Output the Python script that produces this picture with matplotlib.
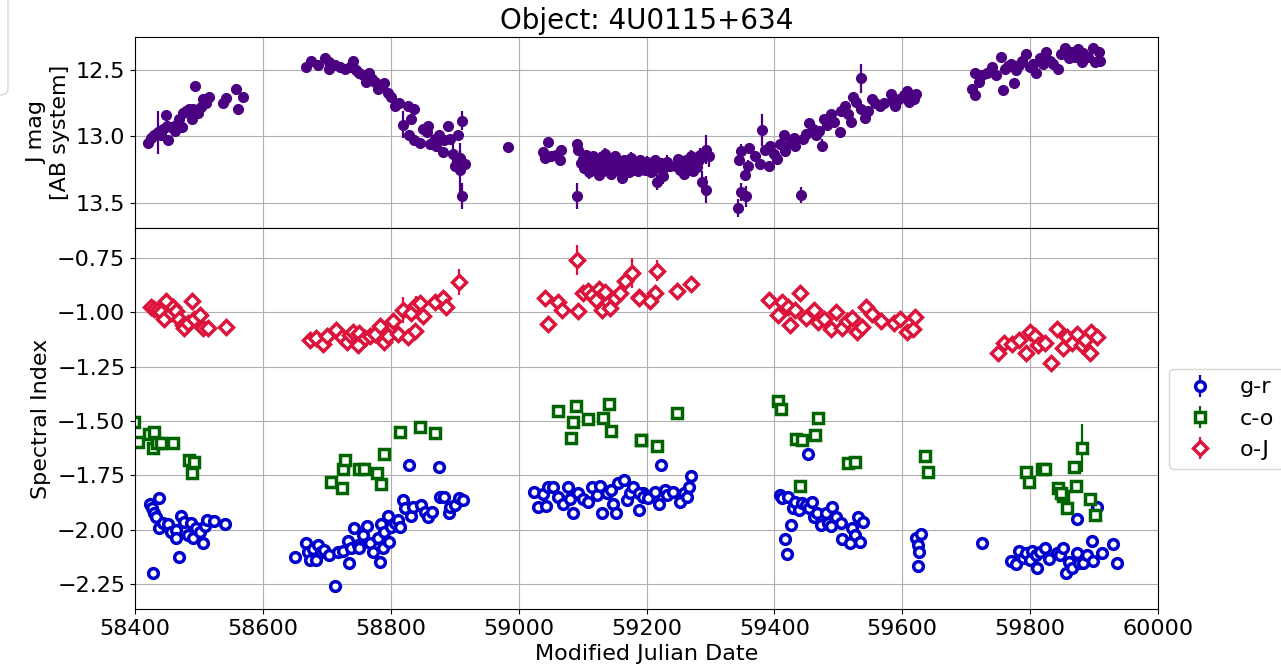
import numpy as np
import matplotlib
matplotlib.use("Agg")
import matplotlib.pyplot as plt
from matplotlib.patches import FancyBboxPatch

obj_name = "4U0115+634"

# J band light curve (MJD, AB mag, error)
j_mjd = [58420, 58425, 58430, 58436, 58441, 58443, 58449, 58450, 58451, 58456,
         58462, 58464, 58469, 58474, 58475, 58480, 58485, 58489, 58490, 58494,
         58498, 58503, 58507, 58511, 58515, 58537, 58543, 58558, 58561, 58569,
         58668, 58676, 58686, 58697, 58704, 58704, 58712, 58720, 58728, 58736,
         58741, 58746, 58751, 58757, 58762, 58766, 58770, 58775, 58780, 58785,
         58790, 58796, 58801, 58806, 58813, 58819, 58827, 58832, 58837, 58829,
         58837, 58845, 58850, 58856, 58858, 58861, 58869, 58871, 58876, 58882,
         58884, 58890, 58892, 58898, 58900, 58905, 58908, 58911, 58912, 58916,
         58908, 58984,
         59038, 59041, 59046, 59051, 59059, 59064, 59067, 59091, 59093, 59092,
         59097, 59100, 59102, 59105, 59107, 59110, 59112, 59115, 59117, 59120,
         59122, 59125, 59127, 59130, 59132, 59135, 59137, 59140, 59142, 59145,
         59147, 59150, 59152, 59155, 59157, 59160, 59162, 59165, 59167, 59170,
         59172, 59175, 59177, 59180, 59182, 59185, 59187, 59190, 59192, 59195,
         59198, 59201, 59204, 59207, 59210, 59213, 59216, 59219, 59222, 59226,
         59229, 59232, 59236, 59246, 59249, 59252, 59255, 59258, 59261, 59264,
         59267, 59270, 59273, 59276, 59279, 59282, 59284, 59287, 59293, 59293,
         59298,
         59343, 59347, 59356, 59354, 59344, 59348, 59359, 59361, 59370, 59377,
         59380, 59385, 59391, 59393, 59399, 59404, 59409, 59415, 59417, 59425,
         59430, 59433, 59441, 59444, 59449, 59454, 59460, 59465, 59470, 59475,
         59478, 59483, 59488, 59494, 59502, 59504, 59510, 59515, 59520, 59523,
         59528, 59535, 59536, 59541, 59546, 59552, 59557, 59565, 59571, 59582,
         59584, 59589, 59595, 59603, 59608, 59611, 59613, 59619, 59621,
         59709, 59714, 59714, 59720, 59725, 59733, 59741, 59746, 59754, 59757,
         59760, 59765, 59770, 59775, 59778, 59783, 59788, 59793, 59799, 59804,
         59809, 59815, 59820, 59825, 59831, 59836, 59844, 59849, 59854, 59860,
         59865, 59870, 59875, 59881, 59883, 59891, 59898, 59902, 59907, 59910]
j_mag = [13.05, 13.01, 12.99, 12.97, 12.99, 12.94, 12.84, 12.92, 13.03, 12.93,
         12.96, 12.91, 12.87, 12.93, 12.82, 12.81, 12.79, 12.87, 12.79, 12.62,
         12.82, 12.78, 12.72, 12.75, 12.70, 12.75, 12.71, 12.64, 12.79, 12.70,
         12.48, 12.43, 12.46, 12.41, 12.44, 12.49, 12.46, 12.48, 12.49, 12.48,
         12.43, 12.50, 12.52, 12.54, 12.59, 12.52, 12.57, 12.59, 12.64, 12.63,
         12.60, 12.67, 12.70, 12.77, 12.75, 12.91, 12.77, 12.87, 12.79, 12.99,
         13.03, 13.05, 12.94, 12.97, 12.92, 13.06, 13.02, 13.07, 12.99, 13.12,
         13.03, 12.92, 13.02, 13.13, 13.22, 12.99, 13.25, 12.88, 13.45, 13.21,
         13.16, 13.08,
         13.12, 13.16, 13.04, 13.15, 13.14, 13.18, 13.10, 13.06, 13.10, 13.45,
         13.20, 13.17, 13.24, 13.14, 13.21, 13.27, 13.18, 13.23, 13.15, 13.25,
         13.19, 13.29, 13.16, 13.22, 13.26, 13.13, 13.20, 13.24, 13.17, 13.28,
         13.21, 13.15, 13.23, 13.19, 13.26, 13.22, 13.31, 13.18, 13.24, 13.20,
         13.27, 13.16, 13.22, 13.25, 13.19, 13.21, 13.26, 13.18, 13.23, 13.20,
         13.25, 13.19, 13.22, 13.27, 13.21, 13.18, 13.34, 13.24, 13.20, 13.30,
         13.23, 13.19, 13.22, 13.22, 13.17, 13.25, 13.20, 13.28, 13.18, 13.24,
         13.21, 13.15, 13.26, 13.19, 13.23, 13.18, 13.14, 13.34, 13.40, 13.10,
         13.15,
         13.54, 13.42, 13.45, 13.29, 13.18, 13.11, 13.22, 13.09, 13.15, 13.21,
         12.95, 13.10, 13.22, 13.07, 13.13, 13.17, 13.06, 12.99, 13.11, 13.05,
         13.01, 13.07, 13.44, 13.02, 12.98, 12.90, 12.94, 12.99, 12.96, 13.07,
         12.87, 12.91, 12.83, 12.89, 12.97, 12.81, 12.77, 12.83, 12.89, 12.70,
         12.74, 12.56, 12.79, 12.86, 12.81, 12.72, 12.75, 12.77, 12.75, 12.68,
         12.73, 12.77, 12.72, 12.69, 12.66, 12.74, 12.69, 12.72, 12.68,
         12.64, 12.69, 12.52, 12.59, 12.54, 12.52, 12.48, 12.54, 12.40, 12.65,
         12.49, 12.47, 12.45, 12.60, 12.50, 12.46, 12.43, 12.38, 12.48, 12.45,
         12.52, 12.41, 12.45, 12.36, 12.43, 12.45, 12.49, 12.38, 12.33, 12.41,
         12.36, 12.40, 12.34, 12.44, 12.37, 12.40, 12.33, 12.44, 12.36, 12.43]
j_err = [0.03, 0.03, 0.04, 0.16, 0.03, 0.02, 0.03, 0.02, 0.03, 0.02,
         0.02, 0.02, 0.02, 0.02, 0.02, 0.02, 0.02, 0.02, 0.02, 0.02,
         0.02, 0.02, 0.02, 0.02, 0.02, 0.02, 0.02, 0.02, 0.02, 0.02,
         0.02, 0.02, 0.02, 0.02, 0.02, 0.02, 0.02, 0.02, 0.02, 0.02,
         0.02, 0.02, 0.02, 0.02, 0.02, 0.02, 0.02, 0.02, 0.02, 0.02,
         0.02, 0.02, 0.02, 0.02, 0.02, 0.10, 0.03, 0.03, 0.03, 0.03,
         0.04, 0.04, 0.03, 0.03, 0.03, 0.04, 0.03, 0.04, 0.03, 0.04,
         0.03, 0.04, 0.03, 0.08, 0.05, 0.03, 0.20, 0.07, 0.10, 0.04,
         0.06, 0.02,
         0.04, 0.03, 0.02, 0.04, 0.03, 0.04, 0.03, 0.03, 0.03, 0.10,
         0.04, 0.04, 0.04, 0.04, 0.04, 0.05, 0.04, 0.04, 0.04, 0.05,
         0.04, 0.04, 0.04, 0.04, 0.05, 0.04, 0.04, 0.05, 0.04, 0.04,
         0.04, 0.04, 0.05, 0.04, 0.04, 0.04, 0.05, 0.04, 0.04, 0.04,
         0.04, 0.04, 0.05, 0.04, 0.04, 0.04, 0.04, 0.04, 0.04, 0.04,
         0.04, 0.04, 0.04, 0.04, 0.04, 0.04, 0.06, 0.04, 0.04, 0.06,
         0.04, 0.05, 0.04, 0.04, 0.04, 0.04, 0.05, 0.04, 0.04, 0.04,
         0.04, 0.05, 0.04, 0.04, 0.04, 0.04, 0.05, 0.08, 0.10, 0.11,
         0.08,
         0.07, 0.07, 0.08, 0.04, 0.04, 0.05, 0.04, 0.04, 0.03, 0.03,
         0.12, 0.03, 0.03, 0.03, 0.03, 0.03, 0.03, 0.03, 0.03, 0.03,
         0.03, 0.03, 0.06, 0.03, 0.03, 0.03, 0.03, 0.03, 0.03, 0.05,
         0.03, 0.04, 0.03, 0.03, 0.03, 0.03, 0.03, 0.03, 0.03, 0.03,
         0.03, 0.11, 0.03, 0.03, 0.03, 0.03, 0.03, 0.03, 0.03, 0.03,
         0.03, 0.03, 0.03, 0.02, 0.02, 0.02, 0.02, 0.02, 0.02,
         0.02, 0.02, 0.02, 0.02, 0.02, 0.02, 0.02, 0.02, 0.02, 0.02,
         0.02, 0.02, 0.02, 0.02, 0.02, 0.02, 0.02, 0.02, 0.02, 0.02,
         0.02, 0.02, 0.02, 0.02, 0.02, 0.02, 0.02, 0.02, 0.02, 0.02,
         0.02, 0.02, 0.02, 0.02, 0.02, 0.02, 0.02, 0.02, 0.02, 0.02]

# spectral index g-r
gr_mjd = [58423, 58428, 58427, 58430, 58433, 58438, 58437, 58443, 58451, 58456,
          58464, 58464, 58469, 58472, 58477, 58483, 58488, 58491, 58496, 58501,
          58507, 58510, 58512, 58524, 58541,
          58650, 58668, 58670, 58673, 58678, 58683, 58686, 58691, 58696, 58704,
          58713, 58717, 58725, 58733, 58735, 58738, 58742, 58749, 58751, 58757,
          58763, 58767, 58772, 58780, 58783, 58785, 58788, 58790, 58796, 58798,
          58801, 58806, 58811, 58814, 58819, 58822, 58828, 58832, 58835, 58848,
          58853, 58859, 58864, 58875, 58877, 58883, 58891, 58893, 58900, 58907,
          58913,
          59024, 59031, 59038, 59043, 59046, 59054, 59062, 59069, 59077, 59080,
          59085, 59093, 59101, 59109, 59114, 59122, 59127, 59131, 59138, 59145,
          59148, 59153, 59156, 59164, 59169, 59174, 59179, 59188, 59194, 59189,
          59195, 59203, 59213, 59220, 59222, 59229, 59232, 59242, 59252, 59258,
          59264, 59266, 59270,
          59409, 59412, 59417, 59419, 59422, 59426, 59429, 59433, 59438, 59443,
          59453, 59449, 59454, 59459, 59462, 59467, 59473, 59480, 59484, 59488,
          59490, 59496, 59504, 59505, 59518, 59521, 59526, 59531, 59534, 59539,
          59621, 59624, 59625, 59626, 59630, 59724,
          59770, 59778, 59783, 59789, 59794, 59799, 59803, 59809, 59811, 59815,
          59823, 59830, 59842, 59847, 59852, 59856, 59860, 59865, 59873, 59874,
          59877, 59883, 59889, 59896, 59898, 59905, 59912, 59929, 59936]
gr_val = [-1.882, -2.198, -1.902, -1.925, -1.943, -1.856, -1.994, -1.971, -1.974, -2.009,
          -2.002, -2.040, -2.127, -1.937, -1.963, -2.025, -1.971, -2.040, -1.994, -2.009,
          -2.063, -1.982, -1.956, -1.959, -1.974,
          -2.124, -2.063, -2.101, -2.140, -2.090, -2.140, -2.071, -2.101, -2.094, -2.117,
          -2.258, -2.101, -2.097, -2.051, -2.155, -2.085, -1.991, -2.071, -2.085, -2.025,
          -1.982, -2.063, -2.101, -2.040, -2.147, -1.974, -2.085, -2.009, -1.937, -2.055,
          -1.986, -1.971, -1.956, -1.986, -1.863, -1.902, -1.702, -1.937, -1.894, -1.886,
          -1.917, -1.940, -1.917, -1.713, -1.848, -1.848, -1.925, -1.894, -1.886, -1.853,
          -1.863,
          -1.825, -1.897, -1.837, -1.891, -1.802, -1.805, -1.848, -1.882, -1.805, -1.860,
          -1.922, -1.833, -1.860, -1.871, -1.805, -1.840, -1.799, -1.925, -1.833, -1.817,
          -1.882, -1.922, -1.787, -1.771, -1.863, -1.833, -1.802, -1.910, -1.833, -1.833,
          -1.848, -1.856, -1.825, -1.882, -1.702, -1.817, -1.840, -1.825, -1.871, -1.833,
          -1.848, -1.802, -1.752,
          -1.840, -1.856, -2.044, -2.112, -1.848, -1.978, -1.902, -1.871, -1.910, -1.879,
          -1.652, -1.887, -1.902, -1.871, -1.943, -1.925, -1.978, -1.925, -1.968, -1.983,
          -1.897, -1.940, -1.971, -2.044, -2.063, -1.994, -2.025, -1.943, -2.055, -1.966,
          -2.040, -2.167, -2.071, -2.101, -2.020, -2.060,
          -2.143, -2.158, -2.097, -2.132, -2.109, -2.140, -2.097, -2.117, -2.175, -2.101,
          -2.085, -2.136, -2.109, -2.117, -2.085, -2.198, -2.147, -2.178, -2.109, -1.952,
          -2.155, -2.155, -2.117, -2.051, -2.143, -1.894, -2.109, -2.066, -2.152]

# spectral index c-o
co_mjd = [58399, 58404, 58422, 58428, 58430, 58435, 58441, 58459, 58485, 58493, 58489,
          58707, 58723, 58725, 58729, 58751, 58758, 58778, 58784, 58789, 58815,
          58845, 58869,
          59062, 59085, 59082, 59090, 59109, 59132, 59141, 59144, 59191, 59192,
          59217, 59247,
          59406, 59411, 59434, 59443, 59464, 59468, 59440, 59515, 59526,
          59635, 59641,
          59793, 59798, 59818, 59823, 59844, 59852, 59858, 59849, 59872, 59868,
          59881, 59894, 59902]
co_val = [-1.503, -1.595, -1.560, -1.626, -1.549, -1.603, -1.600, -1.600, -1.680, -1.687, -1.738,
          -1.782, -1.810, -1.722, -1.680, -1.722, -1.720, -1.740, -1.790, -1.652, -1.549,
          -1.529, -1.557,
          -1.454, -1.503, -1.580, -1.430, -1.490, -1.485, -1.422, -1.545, -1.587, -1.587,
          -1.615, -1.465,
          -1.406, -1.445, -1.584, -1.587, -1.564, -1.488, -1.800, -1.693, -1.687,
          -1.660, -1.736,
          -1.733, -1.779, -1.722, -1.722, -1.810, -1.843, -1.899, -1.833, -1.800, -1.713,
          -1.626, -1.859, -1.932]
co_err = [0.01, 0.01, 0.01, 0.01, 0.01, 0.01, 0.01, 0.01, 0.01, 0.01, 0.01,
          0.01, 0.01, 0.01, 0.01, 0.01, 0.01, 0.01, 0.03, 0.01, 0.01,
          0.01, 0.01,
          0.01, 0.01, 0.01, 0.01, 0.01, 0.01, 0.01, 0.01, 0.01, 0.01,
          0.01, 0.02,
          0.01, 0.01, 0.01, 0.01, 0.01, 0.01, 0.01, 0.01, 0.01,
          0.01, 0.01,
          0.01, 0.01, 0.01, 0.01, 0.01, 0.01, 0.02, 0.01, 0.01, 0.02,
          0.11, 0.01, 0.01]

# spectral index o-J
oj_mjd = [58425, 58430, 58436, 58441, 58449, 58446, 58456, 58459, 58464, 58469,
          58475, 58477, 58483, 58489, 58493, 58501, 58506, 58514, 58543,
          58673, 58683, 58694, 58701, 58715, 58723, 58731, 58736, 58741, 58749,
          58751, 58759, 58767, 58775, 58783, 58789, 58796, 58804, 58811, 58819,
          58827, 58831, 58838, 58840, 58846, 58850, 58869, 58881, 58886, 58907,
          59041, 59046, 59062, 59068, 59091, 59093, 59101, 59109, 59114, 59121,
          59125, 59130, 59135, 59143, 59151, 59159, 59167, 59178, 59188, 59189,
          59216, 59213, 59205, 59247, 59269,
          59392, 59406, 59412, 59425, 59422, 59433, 59440, 59449, 59462, 59468,
          59478, 59489, 59497, 59505, 59513, 59521, 59529, 59537, 59543, 59552,
          59566, 59587, 59597, 59608, 59616, 59620,
          59750, 59759, 59772, 59783, 59794, 59800, 59808, 59813, 59824, 59832,
          59842, 59852, 59858, 59865, 59874, 59881, 59886, 59893, 59895, 59905]
oj_val = [-0.977, -0.985, -0.990, -1.000, -0.946, -1.032, -1.005, -0.974, -0.992, -1.032,
          -1.058, -1.074, -1.048, -0.950, -1.032, -1.012, -1.074, -1.070, -1.066,
          -1.127, -1.120, -1.146, -1.108, -1.081, -1.112, -1.135, -1.104, -1.089, -1.150,
          -1.097, -1.120, -1.108, -1.100, -1.063, -1.135, -1.108, -1.038, -1.100, -0.990,
          -1.112, -1.002, -1.085, -0.966, -0.958, -1.017, -0.951, -0.936, -0.977, -0.859,
          -0.936, -1.054, -0.951, -0.990, -0.759, -0.992, -0.913, -0.900, -0.920, -0.943,
          -0.894, -0.990, -0.905, -0.982, -0.936, -0.913, -0.854, -0.820, -0.930, -0.936,
          -0.808, -0.913, -0.946, -0.900, -0.871,
          -0.943, -1.012, -0.951, -1.058, -0.977, -0.990, -0.910, -1.028, -0.990, -1.043,
          -1.032, -1.078, -0.997, -1.074, -1.038, -1.028, -1.089, -1.066, -0.977, -1.008,
          -1.038, -1.051, -1.032, -1.089, -1.078, -1.023,
          -1.189, -1.143, -1.146, -1.127, -1.186, -1.089, -1.108, -1.150, -1.143, -1.232,
          -1.078, -1.165, -1.112, -1.143, -1.100, -1.150, -1.127, -1.186, -1.089, -1.115]
oj_err = [0.01, 0.01, 0.01, 0.01, 0.01, 0.01, 0.01, 0.01, 0.01, 0.01,
          0.01, 0.01, 0.01, 0.01, 0.01, 0.01, 0.01, 0.01, 0.01,
          0.01, 0.01, 0.01, 0.01, 0.01, 0.01, 0.01, 0.01, 0.01, 0.01,
          0.01, 0.01, 0.01, 0.01, 0.01, 0.01, 0.01, 0.01, 0.01, 0.06,
          0.01, 0.02, 0.01, 0.04, 0.02, 0.01, 0.01, 0.01, 0.01, 0.06,
          0.01, 0.01, 0.01, 0.01, 0.07, 0.01, 0.01, 0.01, 0.01, 0.01,
          0.01, 0.01, 0.01, 0.01, 0.01, 0.01, 0.02, 0.07, 0.01, 0.01,
          0.05, 0.01, 0.01, 0.01, 0.01,
          0.01, 0.01, 0.01, 0.01, 0.01, 0.01, 0.02, 0.01, 0.01, 0.01,
          0.01, 0.01, 0.01, 0.01, 0.01, 0.01, 0.01, 0.01, 0.01, 0.01,
          0.01, 0.01, 0.01, 0.01, 0.01, 0.01,
          0.01, 0.01, 0.01, 0.01, 0.01, 0.01, 0.01, 0.01, 0.01, 0.01,
          0.01, 0.01, 0.01, 0.01, 0.01, 0.01, 0.01, 0.01, 0.01, 0.01]

plt.rcParams['font.size'] = 16

fig = plt.figure(figsize=(12.81, 6.70), dpi=100)
ax1 = fig.add_axes([0.1054, 0.6597, 0.7986, 0.2851])
ax2 = fig.add_axes([0.1054, 0.0910, 0.7986, 0.5687], sharex=ax1)

# light gray frame edge at the top-left corner of the screenshot
fig.patches.append(FancyBboxPatch((-0.2, 0.858), 0.2062, 0.3, boxstyle="round,pad=0,rounding_size=0.008",
                                  transform=fig.transFigure, fc='none', ec='#d9d9d9', lw=1))

ax1.errorbar(j_mjd, j_mag, yerr=j_err, fmt='o', color='indigo', ms=7, elinewidth=1.6, capsize=0)
ax1.set_ylim(13.69, 12.25)
ax1.set_ylabel("J mag\n[AB system]", fontsize=16)
ax1.set_title(f"Object: {obj_name}", fontsize=20)
ax1.grid(True)
ax1.tick_params(labelbottom=False)

kw = dict(ms=7, mew=2.5, mfc='white', elinewidth=1.6, capsize=0, ls='none')
ax2.errorbar(gr_mjd, gr_val, yerr=0.01, fmt='o', color='mediumblue', label='g-r', **kw)
ax2.errorbar(co_mjd, co_val, yerr=co_err, fmt='s', color='darkgreen', label='c-o', **kw)
ax2.errorbar(oj_mjd, oj_val, yerr=oj_err, fmt='D', color='crimson', label='o-J', **kw)
ax2.set_ylim(-2.365, -0.612)
ax2.set_xlim(58400, 60000)
ax2.set_yticks([-2.25, -2.0, -1.75, -1.5, -1.25, -1.0, -0.75])
ax2.set_ylabel("Spectral Index", fontsize=16)
ax2.set_xlabel("Modified Julian Date", fontsize=16)
ax2.grid(True)
ax2.legend(loc='center left', bbox_to_anchor=(1.0, 0.5), fontsize=16)

fig.savefig("out.png", dpi=100)
